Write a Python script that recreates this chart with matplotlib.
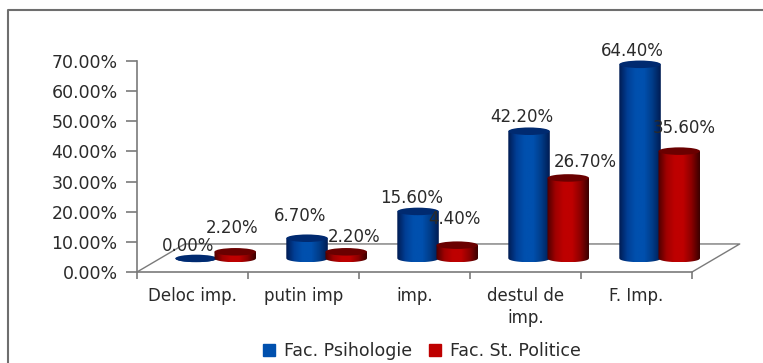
import matplotlib

matplotlib.use("Agg")

import matplotlib.pyplot as plt
import numpy as np
from matplotlib.colors import LinearSegmentedColormap
from matplotlib.lines import Line2D
from matplotlib.patches import Ellipse, PathPatch, Patch
from matplotlib.path import Path

categories = ["Deloc imp.", "putin imp", "imp.", "destul de\nimp.", "F. Imp."]
psihologie = [0.0, 6.7, 15.6, 42.2, 64.4]
politice = [2.2, 2.2, 4.4, 26.7, 35.6]
y_ticks = [0, 10, 20, 30, 40, 50, 60, 70]

# label offsets from the bar top, in pixels (Excel placed them by hand)
psihologie_offsets = [(-8, 12), (-7, 22), (-6, 13), (-7, 14), (-8, 13)]
politice_offsets = [(-3, 24), (8, 15), (-3, 26), (17, 16), (5, 23)]

W, H = 763, 363
AX_LEFT, AX_RIGHT, AX_TOP, AX_BOTTOM = 137, 692, 61, 272
GRAY = "#7A7A7A"
TEXT = "#2A2A2A"

# floor depth, in data units
DEPTH_X = 0.43
DEPTH_Y = 9.3
BASE = 4.5
HALF_W = 0.187
ELL_H = 1.25

blue_cmap = LinearSegmentedColormap.from_list(
    "blue", ["#001B52", "#003F96", "#0050AE", "#0050AE", "#003C88", "#001B52"]
)
red_cmap = LinearSegmentedColormap.from_list(
    "red", ["#4A0000", "#A00000", "#BE0000", "#BE0000", "#8C0000", "#3A0000"]
)


def draw_cylinder(ax, xc, value, cmap, top_color, z):
    t = np.linspace(-1, 1, 60)
    xs = xc + HALF_W * t
    bottom = BASE - ELL_H * np.sqrt(1 - t**2)
    top_y = BASE + value
    verts = list(zip(xs, bottom)) + [(xs[-1], top_y), (xs[0], top_y), (xs[0], bottom[0])]
    clip = PathPatch(Path(verts), transform=ax.transData, fc="none", ec="none", zorder=z)
    ax.add_patch(clip)
    grad = np.linspace(0, 1, 128).reshape(1, -1)
    im = ax.imshow(
        grad,
        cmap=cmap,
        aspect="auto",
        extent=(xc - HALF_W, xc + HALF_W, BASE - ELL_H, top_y),
        zorder=z,
    )
    # last red bar sticks out past the axes, so only clip to its own shape
    im.set_clip_box(fig.bbox)
    im.set_clip_path(clip)
    ax.add_patch(
        Ellipse((xc, top_y), 2 * HALF_W, 2 * ELL_H, fc=top_color, ec="none", zorder=z + 0.1, clip_on=False)
    )


fig = plt.figure(figsize=(W / 100, H / 100), dpi=100)
ax = fig.add_axes(
    [AX_LEFT / W, 1 - AX_BOTTOM / H, (AX_RIGHT - AX_LEFT) / W, (AX_BOTTOM - AX_TOP) / H]
)

# outer chart border, open at the bottom and right
fig.add_artist(
    Line2D([8 / W, 8 / W, 1], [0, 1 - 10 / H, 1 - 10 / H], color="#6E6E6E", lw=1.5)
)

# floor
ax.plot([0, DEPTH_X, 5 + DEPTH_X, 5], [0, DEPTH_Y, DEPTH_Y, 0], color=GRAY, lw=1, clip_on=False, zorder=1)

for i, (a, b) in enumerate(zip(psihologie, politice)):
    draw_cylinder(ax, i + 0.532, a, blue_cmap, "#002A70", 3)
    draw_cylinder(ax, i + 0.885, b, red_cmap, "#6A0000", 4)

for i, (val, off) in enumerate(zip(psihologie, psihologie_offsets)):
    ax.annotate(f"{val:.2f}%", (i + 0.532, BASE + val), xytext=off, textcoords="offset pixels",
                ha="center", va="center", fontsize=12, color=TEXT, zorder=6)
for i, (val, off) in enumerate(zip(politice, politice_offsets)):
    ax.annotate(f"{val:.2f}%", (i + 0.885, BASE + val), xytext=off, textcoords="offset pixels",
                ha="center", va="center", fontsize=12, color=TEXT, zorder=6)

ax.set_xlim(0, 5)
ax.set_ylim(0, 70)
ax.patch.set_visible(False)
for side in ["top", "right"]:
    ax.spines[side].set_visible(False)
for side in ["left", "bottom"]:
    ax.spines[side].set_color(GRAY)
    ax.spines[side].set_linewidth(1.2)

ax.set_yticks(y_ticks)
ax.set_yticklabels([f"{v:.2f}%" for v in y_ticks], fontsize=12.5, color=TEXT)
ax.tick_params(axis="y", length=8, width=1.2, color=GRAY, pad=6)

ax.set_xticks(range(len(categories) + 1))
ax.set_xticklabels([])
ax.tick_params(axis="x", which="major", length=5, width=1.2, color=GRAY)
ax.set_xticks(np.arange(len(categories)) + 0.5, minor=True)
ax.set_xticklabels(categories, minor=True, fontsize=12, color=TEXT, linespacing=1.25)
ax.tick_params(axis="x", which="minor", length=0, pad=11)

handles = [Patch(color="#0050AE", label="Fac. Psihologie"), Patch(color="#BE0000", label="Fac. St. Politice")]
fig.legend(
    handles=handles,
    loc="center",
    bbox_to_anchor=(422 / W, 1 - 351 / H),
    ncol=2,
    frameon=False,
    fontsize=12.5,
    labelcolor=TEXT,
    handlelength=0.7,
    handleheight=0.7,
    handletextpad=0.5,
    columnspacing=1.0,
    borderpad=0,
)

fig.savefig("out.png", dpi=100)
plt.close(fig)
